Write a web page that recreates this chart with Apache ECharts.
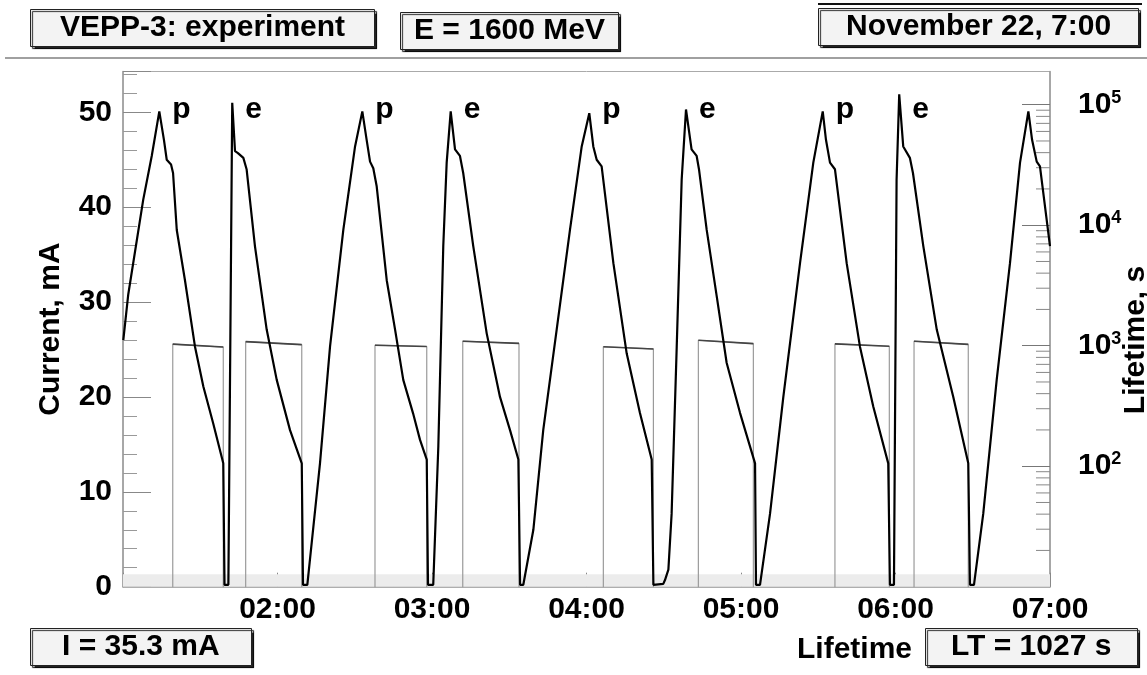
<!DOCTYPE html>
<html><head><meta charset="utf-8">
<script src="https://cdn.jsdelivr.net/npm/echarts@6/dist/echarts.min.js"></script>
<style>html,body{margin:0;padding:0;background:#fff}#c{width:1147px;height:675px}</style>
</head><body><div id="c"></div>
<script>
// ---- data (time in hours, current in mA, lifetime in s) ----
const timeH = [1.002,1.034,1.131,1.186,1.235,1.265,1.283,1.311,1.324,1.348,1.401,1.466,1.520,1.584,1.649,1.657,1.682,
1.707,1.725,1.744,1.779,1.800,1.854,1.930,1.995,2.081,2.157,2.165,2.193,
2.275,2.340,2.426,2.502,2.549,2.577,2.599,2.620,2.642,2.707,2.761,2.814,2.877,2.922,2.966,2.974,3.008,
3.041,3.073,3.095,3.121,3.149,3.181,3.202,3.267,3.354,3.440,3.505,3.559,3.570,3.591,
3.656,3.720,3.807,3.893,3.969,4.018,4.044,4.066,4.098,4.174,4.260,4.346,4.422,4.433,4.497,4.508,4.530,
4.551,4.584,4.616,4.644,4.680,4.713,4.728,4.778,4.843,4.907,4.994,5.091,5.097,5.123,
5.188,5.274,5.382,5.468,5.529,5.550,5.576,5.608,5.684,5.770,5.856,5.953,5.964,5.990,
6.007,6.024,6.050,6.093,6.113,6.180,6.267,6.374,6.471,6.482,6.508,
6.568,6.655,6.741,6.806,6.860,6.884,6.914,6.935,7.000];
const currentMA = [26.0,30.8,40.8,45.4,50.1,47.1,45.0,44.5,43.6,37.6,32.3,25.3,21.1,17.2,13.0,0.2,0.2,
51.0,45.9,45.7,45.2,44.0,35.9,27.1,21.8,16.5,13.0,0.2,0.2,
13.0,25.3,37.6,46.4,50.1,47.1,44.8,44.1,42.2,32.3,27.1,21.8,18.3,15.5,13.4,0.2,0.2,
14.8,35.9,44.7,50.1,46.1,45.4,43.6,35.9,26.7,20.0,16.5,13.4,0.2,0.2,
6.0,16.5,27.1,37.6,46.4,49.9,46.4,45.0,44.3,34.1,24.6,18.3,13.4,0.2,0.3,0.7,1.8,
7.7,25.3,42.9,50.3,46.1,45.4,44.0,37.6,30.6,23.6,18.3,13.0,0.2,0.2,
7.7,20.0,34.1,44.7,50.1,47.1,44.7,44.0,34.1,25.3,19.0,13.0,0.2,0.2,
42.9,51.9,46.4,45.2,43.6,35.9,27.1,20.0,13.0,0.2,0.2,
7.7,21.8,34.1,44.7,50.1,47.1,44.8,44.3,35.9];

// lifetime plateaus (s) during each decay
const ltStart    = [1.322, 1.794, 2.631, 3.199, 4.109, 4.724, 5.608, 6.120];
const ltEnd      = [1.649, 2.157, 2.966, 3.563, 4.433, 5.080, 5.960, 6.471];
const ltTopStart = [1030, 1080, 1010, 1090, 980, 1110, 1035, 1090];
const ltTopEnd   = [975, 1020, 985, 1045, 940, 1040, 990, 1025];

// particle type of each injection and its peak time
const injType  = ['p','e','p','e','p','e','p','e'];
const injTimeH = [1.235, 1.707, 2.549, 3.121, 4.018, 4.644, 5.529, 6.024];

// tick labels
const xTickHours = [2,3,4,5,6,7];
const logMinorTicks = [];
[10,100,1000,10000,100000].forEach(d => { for (let k = 2; k <= 9; k++) { if (d*k < 188600) logMinorTicks.push(d*k); } });

// ---- build ----
const FONT = 'Liberation Sans, Arial, Helvetica, sans-serif';
const X_MIN = 1, X_MAX = 7, LT_LOW = 1, LABEL_LEVEL = 50.3;
const currentData = timeH.map((t,i)=>[t, currentMA[i]]);
const ltData = [], ltTopData = [];
ltStart.forEach((s,i)=>{
  ltData.push([s, LT_LOW],[s, ltTopStart[i]],[ltEnd[i], ltTopEnd[i]],[ltEnd[i], LT_LOW]);
  ltTopData.push([s, ltTopStart[i]],[ltEnd[i], ltTopEnd[i]],[ltEnd[i], '-']);
});
const injData = injTimeH.map((t,i)=>[t, LABEL_LEVEL, injType[i]]);

const boxStyle = {backgroundColor:'#f3f3f3', borderColor:'#222', borderWidth:1,
  shadowColor:'rgba(0,0,0,0.85)', shadowOffsetX:2, shadowOffsetY:2, shadowBlur:1};
const tStyle = {fontSize:30, fontWeight:'bold', color:'#000', fontFamily:FONT, lineHeight:32};

const chart = echarts.init(document.getElementById('c'), null, {renderer:'canvas'});
chart.setOption({
  animation:false,
  backgroundColor:'#fff',
  title:[
    Object.assign({text:'VEPP-3: experiment', left:30, top:9, padding:[3,30,3,30], textStyle:tStyle}, boxStyle),
    Object.assign({text:'E = 1600 MeV', left:400, top:12, padding:[3,14,3,14], textStyle:tStyle}, boxStyle),
    Object.assign({text:'November 22, 7:00', left:818, top:8, padding:[3,28,3,28], textStyle:tStyle}, boxStyle),
    Object.assign({text:'I = 35.3 mA', left:30, top:628, padding:[3,32,3,32], textStyle:tStyle}, boxStyle),
    Object.assign({text:'LT = 1027 s', left:925, top:628, padding:[3,26,3,26], textStyle:tStyle}, boxStyle),
    {text:'Lifetime', right:235, top:631, padding:[3,0,3,0], textStyle:tStyle}
  ],
  graphic:[
    {type:'line', shape:{x1:5,y1:58,x2:1147,y2:58}, style:{stroke:'#a0a0a0', lineWidth:2}},
    {type:'line', shape:{x1:818,y1:4,x2:1142,y2:4}, style:{stroke:'#111', lineWidth:2}},
    {type:'text', x:1136, y:340, rotation:Math.PI/2,
     style:{text:'Lifetime, s', align:'center', verticalAlign:'middle', fontSize:30, fontWeight:'bold', fill:'#000', fontFamily:FONT}}
  ],
  grid:{left:123, right:97, top:71.5, bottom:88.3, show:true, borderColor:'#aaa', borderWidth:1,
        containLabel:false, outerBoundsMode:'none'},
  xAxis:{type:'value', min:X_MIN, max:X_MAX, interval:1,
    axisLine:{lineStyle:{color:'#999', width:1.5}},
    axisTick:{inside:true, length:14, lineStyle:{color:'#888'}},
    minorTick:{show:true, splitNumber:4, length:8, lineStyle:{color:'#999'}},
    splitLine:{show:false},
    axisLabel:{showMinLabel:false, margin:8, fontSize:30, fontWeight:'bold', color:'#000', fontFamily:FONT,
      formatter:v=> xTickHours.indexOf(v)>=0 ? (v<10?'0':'')+v+':00' : ''}
  },
  yAxis:[
    {type:'value', min:0, max:54.3, interval:10, position:'left',
     name:'Current, mA', nameLocation:'middle', nameRotate:90, nameGap:57,
     nameTextStyle:{fontSize:30, fontWeight:'bold', color:'#000', fontFamily:FONT},
     axisLine:{show:true, lineStyle:{color:'#999', width:1.5}},
     axisTick:{inside:true, length:28, lineStyle:{color:'#888'}},
     minorTick:{show:true, splitNumber:5, length:14, lineStyle:{color:'#999'}},
     splitLine:{show:false},
     axisLabel:{showMaxLabel:false, margin:11, fontSize:30, fontWeight:'bold', color:'#000', fontFamily:FONT}
    },
    {type:'log', logBase:10, min:10, max:188600, position:'right',
     axisLine:{show:true, lineStyle:{color:'#999', width:1.5}},
     axisTick:{inside:true, length:28, lineStyle:{color:'#777'}},
     splitLine:{show:false},
     axisLabel:{showMinLabel:false, showMaxLabel:false, margin:28,
       formatter:v=>'{b|10}{s|'+Math.round(Math.log10(v))+'}',
       rich:{b:{fontSize:30, fontWeight:'bold', color:'#000', fontFamily:FONT, lineHeight:32},
             s:{fontSize:18, fontWeight:'bold', color:'#000', fontFamily:FONT, verticalAlign:'top', lineHeight:20, padding:[0,0,12,0]}}}
    }
  ],
  series:[
    {type:'line', name:'Lifetime', yAxisIndex:1, data:ltData, showSymbol:false, symbol:'none',
     lineStyle:{color:'#9a9a9a', width:1.2}, z:2, silent:true},
    {type:'line', name:'LifetimeTop', yAxisIndex:1, data:ltTopData, showSymbol:false, symbol:'none',
     lineStyle:{color:'#444', width:1.6}, z:3, silent:true},
    {type:'custom', name:'logMinorTicks', yAxisIndex:1, data:logMinorTicks.map(v=>[X_MAX, v]), silent:true, z:4,
     renderItem:(params, api)=>{
       const p = api.coord([api.value(0), api.value(1)]);
       return {type:'line', shape:{x1:p[0]-14, y1:p[1], x2:p[0], y2:p[1]}, style:{stroke:'#888', lineWidth:1}};
     }},
    {type:'line', name:'Current', yAxisIndex:0, data:currentData, showSymbol:false, symbol:'none',
     lineStyle:{color:'#000', width:2.2}, z:5, silent:true,
     markArea:{silent:true, itemStyle:{color:'#ececec'}, data:[[{yAxis:0},{yAxis:1.3}]]}},
    {type:'scatter', name:'Injection', yAxisIndex:0, data:injData, symbolSize:0, silent:true, z:6,
     itemStyle:{opacity:1},
     label:{show:true, position:'right', distance:13, formatter:p=>p.data[2], opacity:1,
       fontSize:30, fontWeight:'bold', color:'#000', fontFamily:FONT}}
  ]
});
</script></body></html>
